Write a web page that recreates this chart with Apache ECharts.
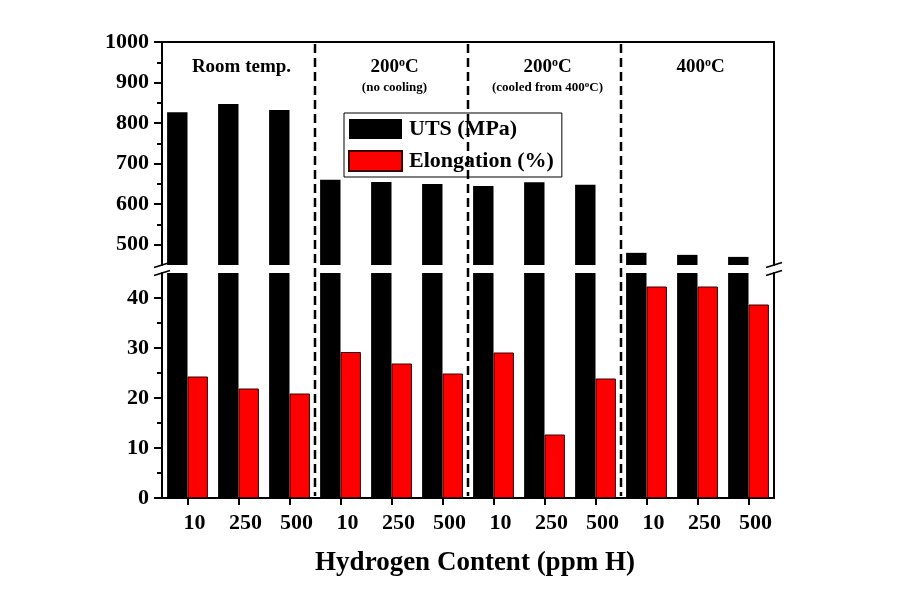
<!DOCTYPE html>
<html><head><meta charset="utf-8">
<script src="https://cdn.jsdelivr.net/npm/echarts@6/dist/echarts.min.js"></script>
<style>html,body{margin:0;padding:0;background:#fff}#c{width:900px;height:604px}</style>
</head><body><div id="c"></div>
<script>
const categories = ['10','250','500','10','250','500','10','250','500','10','250','500'];
const utsValues = [827, 847, 832, 660, 655, 650, 645, 654, 648, 480, 475, 470];
const elongationValues = [24.3, 21.9, 20.9, 29.2, 26.9, 24.9, 29.1, 12.7, 23.9, 42.3, 42.3, 38.7];
const upperTicks = [500, 600, 700, 800, 900, 1000];
const upperMinorTicks = [550, 650, 750, 850, 950];
const lowerTicks = [0, 10, 20, 30, 40];
const lowerMinorTicks = [5, 15, 25, 35];
const groupTitles = ['Room temp.', '200{sup|o}C', '200{sup|o}C', '400{sup|o}C'];
const groupNotes = ['', '(no cooling)', '(cooled from 400{sub|o}C)', ''];
const groupSize = 3;

const FONT = "'Liberation Serif','Times New Roman',serif";
const chart = echarts.init(document.getElementById('c'), null, {renderer: 'canvas'});

const upperRange = {min: 450, max: 1000};
const lowerRange = {min: 0, max: 45};
const lineStyle = {color: '#000', width: 2};
const labelStyle = {fontFamily: FONT, fontWeight: 'bold', fontSize: 22, color: '#000'};

function yAxes(gridIndex, range, major, minor) {
  return [
    {type: 'value', gridIndex, position: 'left', min: range.min, max: range.max,
     splitLine: {show: false},
     axisLine: {show: true, lineStyle},
     axisTick: {show: true, inside: false, length: 8, lineStyle: {color: '#000', width: 2}, customValues: major},
     axisLabel: Object.assign({show: true, margin: 13, customValues: major, formatter: v => String(v)}, labelStyle)},
    {type: 'value', gridIndex, position: 'left', min: range.min, max: range.max,
     splitLine: {show: false},
     axisLine: {show: false},
     axisTick: {show: true, inside: false, length: 5, lineStyle: {color: '#000', width: 2}, customValues: minor},
     axisLabel: {show: false}},
    {type: 'value', gridIndex, position: 'right', min: range.min, max: range.max,
     splitLine: {show: false},
     axisLine: {show: true, lineStyle},
     axisTick: {show: false}, axisLabel: {show: false}}
  ];
}

const barCommon = {type: 'bar', barGap: '0%', barCategoryGap: '20%', clip: true};
const utsStyle = {color: '#000'};
const elStyle = {color: '#ff0000', borderColor: '#3a0000', borderWidth: 1};

const option = {
  animation: false,
  backgroundColor: '#fff',
  grid: [
    {left: 162, right: 126, top: 42, height: 223},
    {left: 162, right: 126, top: 273, height: 225}
  ],
  legend: {
    orient: 'vertical', left: 344, top: 113,
    data: [{name: 'UTS (MPa)', icon: 'rect'}, {name: 'Elongation (%)', icon: 'rect'}],
    itemWidth: 53, itemHeight: 20, itemGap: 10,
    padding: [5, 8, 5, 4],
    borderColor: '#000', borderWidth: 1, borderRadius: 0,
    backgroundColor: '#fff',
    textStyle: {fontFamily: FONT, fontWeight: 'bold', fontSize: 22, color: '#000', padding: [0, 0, 0, 2]},
    selectedMode: false
  },
  xAxis: [
    {type: 'category', gridIndex: 0, data: categories, position: 'top',
     axisLine: {show: true, lineStyle}, axisTick: {show: false}, axisLabel: {show: false}},
    {type: 'category', gridIndex: 1, data: categories, position: 'bottom',
     axisLine: {show: true, lineStyle},
     axisTick: {show: true, alignWithLabel: true, inside: false, length: 7, lineStyle: {color: '#000', width: 2}},
     axisLabel: Object.assign({margin: 14, padding: [0, 0, 0, 14]}, labelStyle),
     name: 'Hydrogen Content (ppm H)', nameLocation: 'middle', nameGap: 52,
     nameTextStyle: {fontFamily: FONT, fontWeight: 'bold', fontSize: 27, color: '#000', padding: [0, 0, 0, 14]}}
  ],
  yAxis: [].concat(
    yAxes(0, upperRange, upperTicks, upperMinorTicks),
    yAxes(1, lowerRange, lowerTicks, lowerMinorTicks)
  ),
  series: [
    Object.assign({name: 'UTS (MPa)', xAxisIndex: 0, yAxisIndex: 0, data: utsValues, itemStyle: utsStyle}, barCommon),
    Object.assign({name: 'Elongation (%)', xAxisIndex: 0, yAxisIndex: 0, data: elongationValues, itemStyle: elStyle}, barCommon),
    Object.assign({name: 'UTS (MPa)', xAxisIndex: 1, yAxisIndex: 3, data: utsValues, itemStyle: utsStyle}, barCommon),
    Object.assign({name: 'Elongation (%)', xAxisIndex: 1, yAxisIndex: 3, data: elongationValues, itemStyle: elStyle}, barCommon)
  ]
};
chart.setOption(option);

// decorations computed from axes
const graphics = [];
const xAt = i => chart.convertToPixel({xAxisIndex: 1}, i);
const yTop = chart.convertToPixel({yAxisIndex: 0}, upperRange.max);
const yGapTop = chart.convertToPixel({yAxisIndex: 0}, upperRange.min);
const yGapBot = chart.convertToPixel({yAxisIndex: 3}, lowerRange.max);
const yBottom = chart.convertToPixel({yAxisIndex: 3}, lowerRange.min);
const step = xAt(1) - xAt(0);
const xLeft = xAt(0) - step / 2;
const xRight = xAt(categories.length - 1) + step / 2;

for (let g = 1; g < categories.length / groupSize; g++) {
  const x = (xAt(g * groupSize - 1) + xAt(g * groupSize)) / 2;
  graphics.push({type: 'line', z: 50, shape: {x1: x, y1: yTop + 2, x2: x, y2: yBottom - 2},
    style: {stroke: '#000', lineWidth: 2.5, lineDash: [9, 5]}});
}
for (let g = 0; g < groupTitles.length; g++) {
  const cx = (xAt(g * groupSize) + xAt(g * groupSize + groupSize - 1)) / 2 + 3;
  graphics.push({type: 'text', z: 50, x: cx, y: yTop + 25,
    style: {text: groupTitles[g], fontFamily: FONT, fontWeight: 'bold', fontSize: 19, fill: '#000',
      align: 'center', verticalAlign: 'middle',
      rich: {sup: {fontFamily: FONT, fontWeight: 'bold', fontSize: 12, fill: '#000', padding: [0, 0, 9, 0]}}}});
  if (groupNotes[g]) {
    graphics.push({type: 'text', z: 50, x: cx, y: yTop + 46,
      style: {text: groupNotes[g], fontFamily: FONT, fontWeight: 'bold', fontSize: 13, fill: '#000',
        align: 'center', verticalAlign: 'middle',
        rich: {sub: {fontFamily: FONT, fontWeight: 'bold', fontSize: 9, fill: '#000', padding: [0, 0, 6, 0]}}}});
  }
}
// axis break marks
[xLeft, xRight].forEach(x => {
  [yGapTop, yGapBot].forEach(y => {
    graphics.push({type: 'line', z: 60, shape: {x1: x - 8, y1: y + 2.5, x2: x + 8, y2: y - 2.5},
      style: {stroke: '#000', lineWidth: 1.8}});
  });
});
chart.setOption({graphic: graphics});
</script>
</body></html>
